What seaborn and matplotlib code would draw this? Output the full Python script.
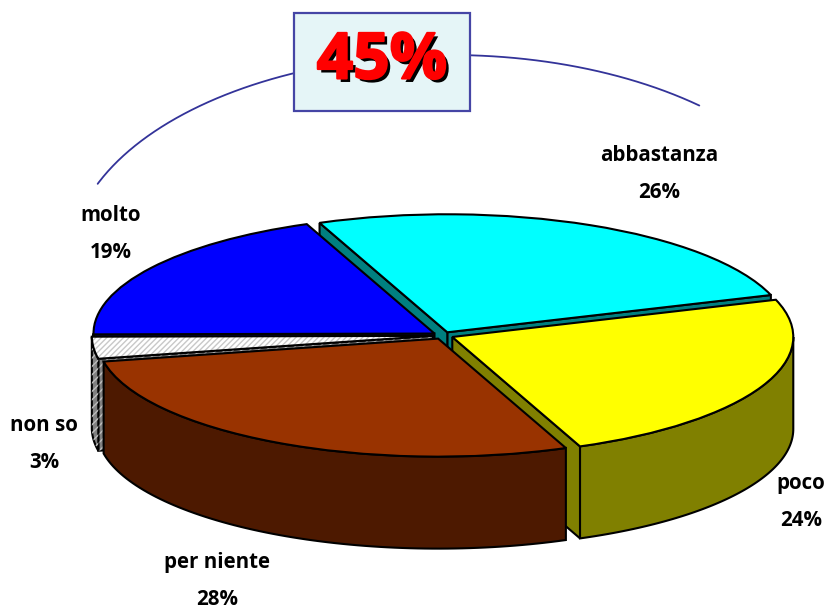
import numpy as np
import seaborn as sns
import matplotlib.pyplot as plt
import matplotlib.patheffects as pe
from matplotlib.patches import Rectangle

# dati
categorie = ['abbastanza', 'poco', 'per niente', 'non so', 'molto']
valori = [26, 24, 28, 3, 19]
esplosione = [0.03, 0.03, 0.03, 0.03, 0.03]
colori_top = sns.color_palette(['#00FFFF', '#FFFF00', '#993300', '#FFFFFF', '#0000FF'])
colori_lato = sns.color_palette(['#008080', '#808000', '#4D1900', '#808080', '#000080'])
totale_testo = '45%'

# posizione etichette in pixel
pos_etichette = [(659, 174), (801, 502), (217, 581), (44, 444), (111, 234)]

W, H = 829, 610
CX, CY, RX, RY = 443, 335.5, 341, 118
PROF = 92 / RY

sns.set_theme(style='white')
plt.rcParams['font.family'] = ['Open Sans', 'DejaVu Sans']
plt.rcParams['hatch.linewidth'] = 1.0

fig = plt.figure(figsize=(W / 100, H / 100), dpi=100)
ax = fig.add_axes([0, 0, 1, 1])

wedges, _ = ax.pie(valori, explode=esplosione, colors=colori_top, startangle=112,
                   counterclock=False, wedgeprops={'edgecolor': 'black', 'linewidth': 1.5})
ax.set_aspect('auto')
ax.set_xlim(-CX / RX, (W - CX) / RX)
ax.set_ylim((CY - H) / RY, CY / RY)


def disegna_lati(w, colore, z, hatch=None):
    x0, y0 = w.center
    t1, t2 = w.theta1, w.theta2
    facce = []
    # facce dei tagli radiali, solo quelle rivolte verso chi guarda
    for t, normale in ((t1, t1 - 90), (t2, t2 + 90)):
        if np.sin(np.radians(normale)) < 0:
            xe = x0 + np.cos(np.radians(t))
            ye = y0 + np.sin(np.radians(t))
            facce.append(([x0, xe, xe, x0], [y0, ye, ye - PROF, y0 - PROF]))
    # parete esterna, solo la parte davanti
    for k in range(-2, 1):
        a = max(t1, 180 + 360 * k)
        b = min(t2, 360 + 360 * k)
        if b > a:
            t = np.radians(np.linspace(a, b, 80))
            xa = x0 + np.cos(t)
            ya = y0 + np.sin(t)
            facce.append((np.r_[xa, xa[::-1]], np.r_[ya, ya[::-1] - PROF]))
    for fx, fy in facce:
        ax.fill(fx, fy, facecolor=colore, edgecolor='black', linewidth=1.5, zorder=z)
        if hatch:
            ax.fill(fx, fy, facecolor='none', edgecolor='#BDBDBD', linewidth=0, hatch=hatch, zorder=z)


# ordine di disegno: dal fondo verso il davanti
ordine = [0, 4, 3, 1, 2]
for n, i in enumerate(ordine):
    z = 2 + n
    disegna_lati(wedges[i], colori_lato[i], z, hatch='////' if categorie[i] == 'non so' else None)
    wedges[i].set_zorder(z + 0.5)

# fetta bianca tratteggiata
w_ns = wedges[categorie.index('non so')]
w_ns.set_hatch('//////')
w_ns.set_edgecolor('#C8C8C8')
w_ns.set_linewidth(0)
t_ns = np.radians(np.linspace(w_ns.theta1, w_ns.theta2, 30))
ax.fill(np.r_[w_ns.center[0], w_ns.center[0] + np.cos(t_ns)],
        np.r_[w_ns.center[1], w_ns.center[1] + np.sin(t_ns)],
        facecolor='none', edgecolor='black', linewidth=1.5, zorder=w_ns.get_zorder() + 0.1)

# livello in pixel per testi, arco e riquadro
ov = fig.add_axes([0, 0, 1, 1])
ov.set_xlim(0, W)
ov.set_ylim(H, 0)
ov.axis('off')
ov.patch.set_alpha(0)

t_arco = np.radians(np.linspace(49, 158, 200))
ov.plot(450 + 380 * np.cos(t_arco), 261 - 206 * np.sin(t_arco), color='#333399', lw=1.3, zorder=1)

ov.add_patch(Rectangle((294, 13), 176, 98, facecolor='#E5F5F7', edgecolor='#4545A5', lw=1.6, zorder=2))
ov.text(382, 62, totale_testo, color='#FF0000', fontsize=46, fontweight='bold', ha='center', va='center', zorder=4,
        path_effects=[pe.SimplePatchShadow(offset=(2.5, -2.5), shadow_rgbFace='black', alpha=1),
                      pe.Stroke(linewidth=1.5, foreground='#FF0000', joinstyle='round'),
                      pe.Normal()])

for cat, val, (px, py) in zip(categorie, valori, pos_etichette):
    ov.text(px, py, f'{cat}\n{val}%', color='black', fontsize=14.8, fontweight='bold',
            ha='center', va='center', linespacing=2.0, zorder=5)

fig.savefig('out.png', dpi=100, facecolor='white')
